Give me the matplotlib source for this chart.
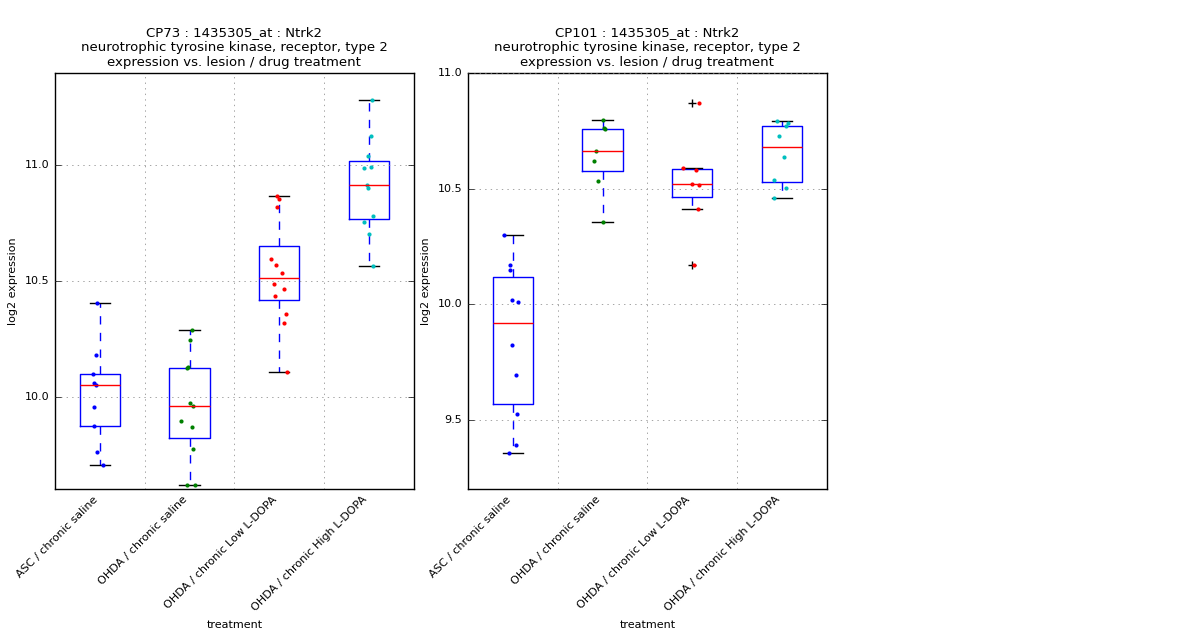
import numpy as np
import matplotlib
matplotlib.use("Agg")
import matplotlib.pyplot as plt

plt.style.use("classic")

groups = ["ASC / chronic saline", "OHDA / chronic saline",
          "OHDA / chronic Low L-DOPA", "OHDA / chronic High L-DOPA"]
colors = ["b", "g", "r", "c"]

# CP73 values
cp73 = [
    [10.405, 10.178, 10.099, 10.057, 10.049, 9.954, 9.872, 9.760, 9.704],
    [10.289, 10.243, 10.124, 10.126, 9.971, 9.961, 9.894, 9.868, 9.773, 9.618, 9.618],
    [10.866, 10.855, 10.820, 10.596, 10.570, 10.535, 10.488, 10.466, 10.437, 10.355, 10.316, 10.108],
    [11.281, 11.128, 11.040, 10.995, 10.987, 10.914, 10.902, 10.781, 10.754, 10.704, 10.565],
]
cp73_jitter = [
    [-0.03, -0.04, -0.08, -0.07, -0.04, -0.06, -0.06, -0.03, 0.04],
    [0.03, 0.00, -0.03, -0.02, 0.01, 0.04, -0.09, 0.03, 0.04, -0.03, 0.06],
    [-0.03, 0.00, -0.03, -0.09, -0.04, 0.03, -0.06, 0.05, -0.05, 0.08, 0.05, 0.09],
    [0.03, 0.02, -0.01, 0.02, -0.05, -0.02, -0.01, 0.05, -0.06, 0.00, 0.05],
]
# CP101 values
cp101 = [
    [10.300, 10.167, 10.149, 10.019, 10.010, 9.823, 9.695, 9.523, 9.389, 9.355],
    [10.797, 10.760, 10.756, 10.664, 10.618, 10.532, 10.353],
    [10.871, 10.588, 10.579, 10.519, 10.514, 10.411, 10.167],
    [10.793, 10.783, 10.769, 10.726, 10.635, 10.536, 10.501, 10.458],
]
cp101_jitter = [
    [-0.10, -0.03, -0.03, -0.01, 0.06, -0.01, 0.03, 0.05, 0.03, -0.04],
    [0.01, 0.02, 0.03, -0.07, -0.09, -0.05, 0.00],
    [0.07, -0.10, 0.04, 0.00, 0.07, 0.06, 0.02],
    [-0.05, 0.07, 0.04, -0.03, 0.02, -0.09, 0.04, -0.09],
]

panels = [
    ("CP73", cp73, cp73_jitter, (9.6, 11.4), [10.0, 10.5, 11.0]),
    ("CP101", cp101, cp101_jitter, (9.2, 11.0), [9.5, 10.0, 10.5, 11.0]),
]

fig = plt.figure(figsize=(12, 6.4), dpi=100, facecolor="white")
lefts = [0.0458, 0.39]

for left, (name, data, jit, ylim, yticks) in zip(lefts, panels):
    ax = fig.add_axes([left, 0.236, 0.299, 0.65])
    ax.boxplot(data, positions=range(1, 5), widths=0.45)
    for i, (vals, jj) in enumerate(zip(data, jit)):
        ax.plot(np.array(jj) + i + 1, vals, "o", color=colors[i],
                markersize=3, markeredgewidth=0)
    ax.set_xlim(0.5, 4.5)
    ax.set_ylim(*ylim)
    ax.set_yticks(yticks)
    ax.set_xticks([1, 2, 3, 4])
    ax.set_xticks([1.5, 2.5, 3.5], minor=True)
    ax.set_xticklabels(groups, rotation=45, ha="right", fontsize=8)
    ax.tick_params(axis="y", labelsize=8)
    ax.tick_params(axis="x", which="both", length=0)
    ax.grid(False)
    ax.grid(True, which="minor", axis="x", linestyle=":", color="gray")
    ax.grid(True, which="major", axis="y", linestyle=":", color="gray")
    ax.set_xlabel("treatment", fontsize=8)
    ax.set_ylabel("log2 expression", fontsize=8)
    ax.set_title(f"{name} : 1435305_at : Ntrk2\n"
                 "neurotrophic tyrosine kinase, receptor, type 2\n"
                 "expression vs. lesion / drug treatment", fontsize=9.5)

fig.savefig("out.png", dpi=100, facecolor="white")
